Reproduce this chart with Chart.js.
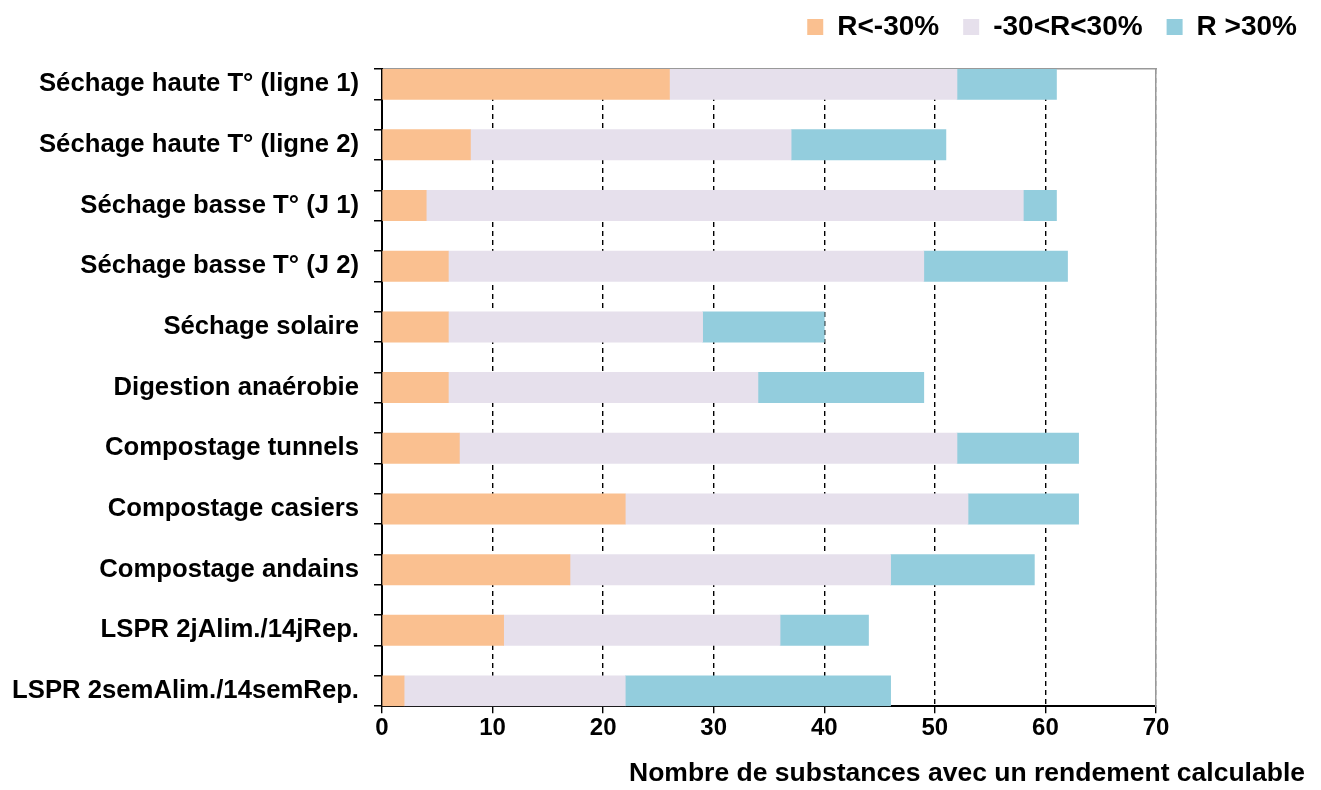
<!DOCTYPE html>
<html>
<head>
<meta charset="utf-8">
<script src="https://cdn.jsdelivr.net/npm/chart.js@4/dist/chart.umd.min.js"></script>
<style>
  body { margin: 0; background: #fff; }
  #wrap { width: 1321px; height: 790px; }
</style>
</head>
<body>
<div id="wrap"><canvas id="chart"></canvas></div>
<script>
// categories, top to bottom
const procedes = [
    "Séchage haute T° (ligne 1)",
    "Séchage haute T° (ligne 2)",
    "Séchage basse T° (J 1)",
    "Séchage basse T° (J 2)",
    "Séchage solaire",
    "Digestion anaérobie",
    "Compostage tunnels",
    "Compostage casiers",
    "Compostage andains",
    "LSPR 2jAlim./14jRep.",
    "LSPR 2semAlim./14semRep."
];
const serieNames = ["R<-30%", "-30<R<30%", "R >30%"];
const rMoins30 = [26, 8, 4, 6, 6, 6, 7, 22, 17, 11, 2];
const rEntre = [26, 29, 54, 43, 23, 28, 45, 31, 29, 25, 20];
const rPlus30 = [9, 14, 3, 13, 11, 15, 11, 10, 13, 8, 24];
const xTicks = [0, 10, 20, 30, 40, 50, 60, 70];
const xTitle = "Nombre de substances avec un rendement calculable";

// Excel style: one empty slot between bars so the bars touch the axis ends
function spaced(arr, blank) {
    const out = [];
    arr.forEach((v, i) => {
        out.push(v);
        if (i < arr.length - 1) out.push(blank);
    });
    return out;
}

const fontFamily = "'Liberation Sans', Arial, sans-serif";
Chart.defaults.font.family = fontFamily;
Chart.defaults.font.weight = "bold";
Chart.defaults.color = "#000";

const colors = ["#FAC090", "#E6E0EC", "#93CDDD"];
const series = [rMoins30, rEntre, rPlus30];

// nudge the legend: a bit further right and higher, like the original
const legendShift = {
    id: "legendShift",
    afterLayout(chart) {
        const lg = chart.legend;
        if (!lg) return;
        lg.left += 16; lg.right += 16;
        lg.top -= 14; lg.bottom -= 14;
    }
};

new Chart(document.getElementById("chart"), {
    type: "bar",
    data: {
        labels: spaced(procedes, ""),
        datasets: series.map((s, i) => ({
            label: serieNames[i],
            data: spaced(s, null),
            backgroundColor: colors[i],
            borderWidth: 0,
            categoryPercentage: 1,
            barPercentage: 1
        }))
    },
    options: {
        indexAxis: "y",
        responsive: true,
        maintainAspectRatio: false,
        animation: false,
        layout: { padding: { left: 0, right: 16, top: 3, bottom: 0 } },
        plugins: {
            legend: {
                position: "top",
                align: "end",
                labels: {
                    boxWidth: 16,
                    boxHeight: 16,
                    padding: 24,
                    font: { size: 28, weight: "bold" },
                    color: "#000"
                }
            },
            title: {
                display: true,
                position: "bottom",
                align: "end",
                text: xTitle,
                color: "#000",
                font: { size: 26.5, weight: "bold" },
                padding: { top: 0, bottom: 0 }
            },
            tooltip: { enabled: false }
        },
        scales: {
            x: {
                stacked: true,
                min: 0,
                max: 70,
                afterBuildTicks: s => { s.ticks = xTicks.map(v => ({ value: v })); },
                afterFit: s => { s.height = 52; },
                ticks: { font: { size: 24, weight: "bold" }, color: "#000", padding: 1 },
                grid: {
                    color: c => (c.tick && c.tick.value === 70 ? "#999" : "#000"),
                    lineWidth: 1.4,
                    tickLength: 7,
                    tickBorderDash: [],
                    tickColor: "#000"
                },
                border: { color: "#000", width: 2, dash: [5, 4] }
            },
            x2: {
                position: "top",
                display: true,
                afterFit: s => { s.height = 4; },
                ticks: { display: false },
                grid: { display: false },
                border: { color: "#999", width: 1.5 }
            },
            y: {
                stacked: true,
                afterFit: s => { s.width = 382; },
                ticks: {
                    autoSkip: false,
                    font: { size: 25.7, weight: "bold" },
                    color: "#000",
                    padding: 15
                },
                grid: {
                    drawOnChartArea: false,
                    offset: true,
                    tickLength: 8,
                    color: "#000",
                    lineWidth: 1.5
                },
                border: { color: "#000", width: 2 }
            },
            y2: {
                position: "right",
                display: true,
                afterFit: s => { s.width = 149; },
                ticks: { display: false },
                grid: { display: false },
                border: { color: "#999", width: 1.5 }
            }
        }
    },
    plugins: [legendShift]
});
</script>
</body>
</html>
